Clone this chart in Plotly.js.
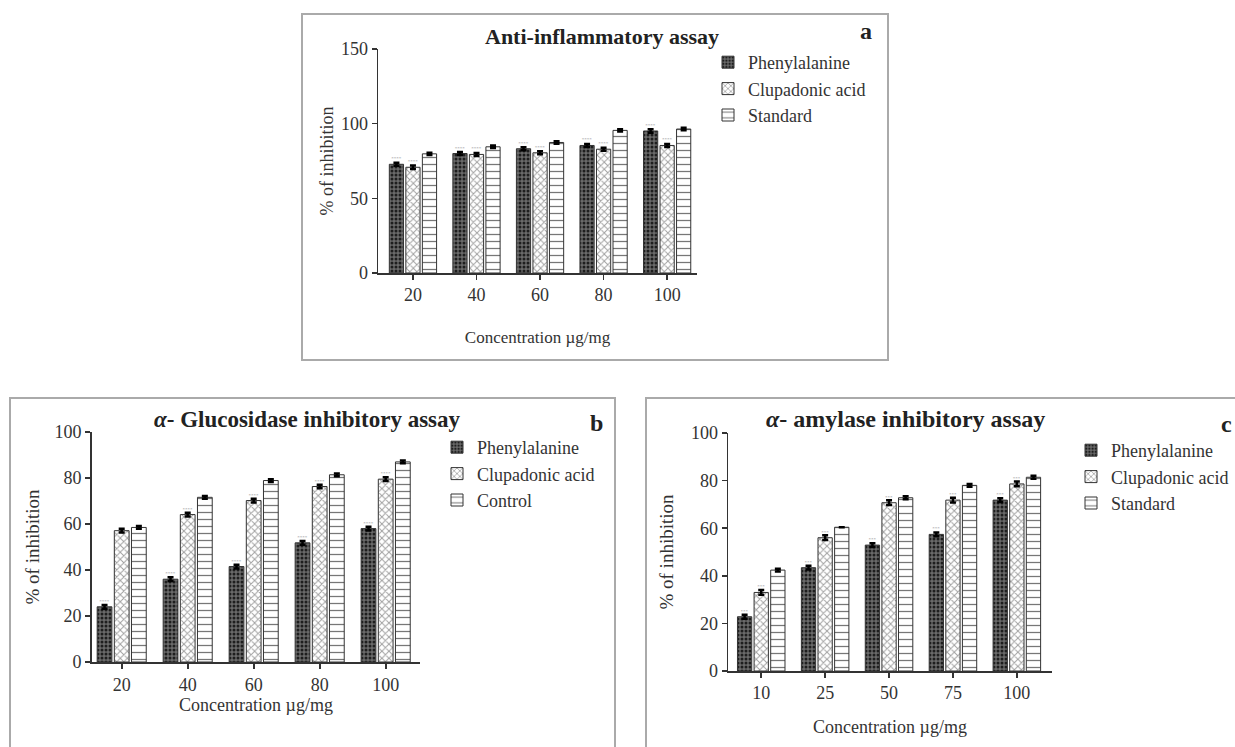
<!DOCTYPE html>
<html><head><meta charset="utf-8">
<script src="https://cdn.plot.ly/plotly-3.0.1.min.js"></script>
<style>html,body{margin:0;padding:0;background:#fff}#chart{width:1235px;height:747px}</style>
</head><body><div id="chart"></div>
<script>
// ---- data ----
const aCats = ['20','40','60','80','100'];
const aPhe = [72.8, 80.0, 83.2, 85.4, 95.1];
const aClu = [70.8, 79.4, 80.5, 82.9, 85.4];
const aStd = [79.8, 84.5, 87.4, 95.5, 96.4];
const aPheErr = [1.0, 1.0, 1.0, 1.0, 1.2];
const aCluErr = [1.2, 1.0, 1.0, 1.0, 1.0];
const aStdErr = [0.8, 0.8, 0.8, 0.8, 0.8];
const aPheStars = ['****','****','****','****','****'];
const aCluStars = ['****','****','****','****','****'];

const bCats = ['20','40','60','80','100'];
const bPhe = [24.0, 36.0, 41.5, 51.8, 58.0];
const bClu = [57.1, 64.1, 70.2, 76.3, 79.5];
const bCtl = [58.5, 71.6, 78.9, 81.4, 87.0];
const bPheErr = [0.8, 0.8, 0.8, 0.8, 0.8];
const bCluErr = [0.8, 0.8, 0.8, 0.8, 0.8];
const bCtlErr = [0.6, 0.6, 0.6, 0.6, 0.6];
const bPheStars = ['****','****','****','****','****'];
const bCluStars = ['','****','****','****','****'];

const cCats = ['10','25','50','75','100'];
const cPhe = [22.8, 43.4, 52.9, 57.4, 71.8];
const cClu = [33.0, 56.0, 70.7, 71.8, 78.6];
const cStd = [42.4, 60.4, 72.8, 78.0, 81.4];
const cPheErr = [0.8, 0.8, 0.8, 0.8, 0.8];
const cCluErr = [1.0, 1.0, 1.0, 1.0, 1.0];
const cStdErr = [0.6, 0.0, 0.6, 0.6, 0.6];
const cPheStars = ['***','***','***','***','***'];
const cCluStars = ['***','***','***','***','***'];

const seriesNames = ['Phenylalanine','Clupadonic acid'];
const thirdA = 'Standard', thirdB = 'Control', thirdC = 'Standard';

// ---- styles ----
const W = 1235, H = 747;
const SERIF = 'Liberation Serif, serif';
const styles = [
  {pattern:{shape:'.', bgcolor:'#6a6a6a', fgcolor:'#1e1e1e', size:4, solidity:0.45}},
  {pattern:{shape:'x', bgcolor:'#ffffff', fgcolor:'#a0a0a0', size:5, solidity:0.35}},
  {pattern:{shape:'-', bgcolor:'#ffffff', fgcolor:'#777777', size:7, solidity:0.18}}
];
function bar(name, cats, vals, errs, stars, idx, xa, ya, leg){
  return {
    type:'bar', name:name, x:cats, y:vals, xaxis:xa, yaxis:ya, legend:leg,
    marker:{color:'#ffffff', pattern:styles[idx].pattern, line:{color:'#333', width:1}},
    error_y:{type:'data', array:errs, visible:true, color:'#000', thickness:2.5, width:3},
    text: stars || null, textposition: stars ? 'outside' : 'none',
    textfont:{size:5, color:'#999', family:SERIF}, constraintext:'none', cliponaxis:false,
    hoverinfo:'x+y'
  };
}
const data = [
  bar(seriesNames[0], aCats, aPhe, aPheErr, aPheStars, 0, 'x', 'y', 'legend'),
  bar(seriesNames[1], aCats, aClu, aCluErr, aCluStars, 1, 'x', 'y', 'legend'),
  bar(thirdA, aCats, aStd, aStdErr, null, 2, 'x', 'y', 'legend'),
  bar(seriesNames[0], bCats, bPhe, bPheErr, bPheStars, 0, 'x2', 'y2', 'legend2'),
  bar(seriesNames[1], bCats, bClu, bCluErr, bCluStars, 1, 'x2', 'y2', 'legend2'),
  bar(thirdB, bCats, bCtl, bCtlErr, null, 2, 'x2', 'y2', 'legend2'),
  bar(seriesNames[0], cCats, cPhe, cPheErr, cPheStars, 0, 'x3', 'y3', 'legend3'),
  bar(seriesNames[1], cCats, cClu, cCluErr, cCluStars, 1, 'x3', 'y3', 'legend3'),
  bar(thirdC, cCats, cStd, cStdErr, null, 2, 'x3', 'y3', 'legend3')
];

const px = v => v / W, py = v => 1 - v / H;
function xax(x0, x1, range, yanchor, titleSize, standoff, lineW){
  return {domain:[px(x0), px(x1)], anchor:yanchor, type:'category', range:range,
    showline:true, linecolor:'#333', linewidth:lineW, ticks:'outside', ticklen:5, tickcolor:'#333', tickwidth:lineW,
    showgrid:false, zeroline:false, automargin:false, fixedrange:true,
    tickfont:{family:SERIF, size:18, color:'#333'},
    title:{text:'Concentration µg/mg', font:{family:SERIF, size:titleSize, color:'#333'}, standoff:standoff}};
}
function yax(y0, y1, range, dtick, xanchor, titleSize, standoff, lineW){
  return {domain:[py(y0), py(y1)], anchor:xanchor, range:range, dtick:dtick, tick0:0,
    showline:true, linecolor:'#333', linewidth:lineW, ticks:'outside', ticklen:5, tickcolor:'#333', tickwidth:lineW,
    showgrid:false, zeroline:false, automargin:false, fixedrange:true,
    tickfont:{family:SERIF, size:18, color:'#333'},
    title:{text:'% of inhibition', font:{family:SERIF, size:titleSize, color:'#333'}, standoff:standoff}};
}
function legendAt(x, y, size){
  return {x:px(x), y:py(y), xanchor:'left', yanchor:'top', bgcolor:'rgba(0,0,0,0)',
    font:{family:SERIF, size:size, color:'#333'}, tracegroupgap:0, itemwidth:30};
}
function ann(text, x, y, size){
  return {text:text, x:px(x), y:py(y), xref:'paper', yref:'paper', showarrow:false,
    xanchor:'center', yanchor:'middle', font:{family:SERIF, size:size, color:'#222'}};
}
const layout = {
  width:W, height:H, margin:{l:0, r:0, t:0, b:0},
  paper_bgcolor:'#fff', plot_bgcolor:'#fff', showlegend:true,
  barmode:'group', bargap:0.22, bargroupgap:0.14,
  xaxis:  xax(378, 697, [-0.55, 4.47], 'y', 17, 27, 1.5),
  yaxis:  yax(273, 49, [0, 150], 50, 'x', 18, 2, 1.5),
  xaxis2: xax(92, 420, [-0.45, 4.52], 'y2', 18, 0, 2),
  yaxis2: yax(662, 432, [0, 100], 20, 'x2', 19, 10, 2),
  xaxis3: xax(728, 1052, [-0.52, 4.55], 'y3', 18, 18, 1.5),
  yaxis3: yax(671, 433, [0, 100], 20, 'x3', 19, 12, 1.5),
  legend:  legendAt(708, 44, 18),
  legend2: legendAt(437, 429, 18),
  legend3: legendAt(1071, 432, 18),
  annotations:[
    ann('<b>Anti-inflammatory assay</b>', 602, 36, 22),
    ann('<b>a</b>', 866, 31, 24),
    ann('<b><i>α</i>- Glucosidase inhibitory assay</b>', 307, 419, 23),
    ann('<b>b</b>', 596, 423, 24),
    ann('<b><i>α</i>- amylase inhibitory assay</b>', 905, 419, 24),
    ann('<b>c</b>', 1226, 424, 24)
  ],
  shapes:[
    {type:'rect', xref:'paper', yref:'paper', x0:px(302), x1:px(888), y0:py(360), y1:py(14), line:{color:'#aaa', width:2}},
    {type:'rect', xref:'paper', yref:'paper', x0:px(10), x1:px(615), y0:py(760), y1:py(398), line:{color:'#aaa', width:2}},
    {type:'rect', xref:'paper', yref:'paper', x0:px(646), x1:px(1245), y0:py(760), y1:py(398), line:{color:'#aaa', width:2}}
  ]
};
Plotly.newPlot('chart', data, layout, {staticPlot:true, displayModeBar:false});
</script></body></html>
